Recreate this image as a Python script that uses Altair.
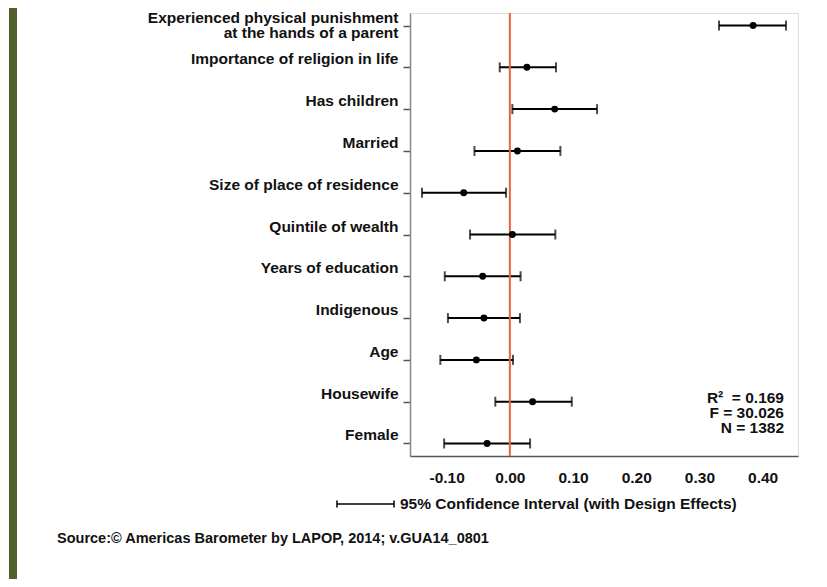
import altair as alt
import pandas as pd

# ---- data ----
categories = [
    "Experienced physical punishment|at the hands of a parent",
    "Importance of religion in life",
    "Has children",
    "Married",
    "Size of place of residence",
    "Quintile of wealth",
    "Years of education",
    "Indigenous",
    "Age",
    "Housewife",
    "Female",
]
coef = [0.385, 0.027, 0.071, 0.012, -0.073, 0.004, -0.043, -0.041, -0.053, 0.036, -0.036]
ci_low = [0.331, -0.016, 0.004, -0.056, -0.139, -0.063, -0.103, -0.098, -0.110, -0.023, -0.104]
ci_high = [0.437, 0.073, 0.138, 0.080, -0.006, 0.072, 0.017, 0.016, 0.005, 0.098, 0.032]
x_ticks = [-0.10, 0.0, 0.10, 0.20, 0.30, 0.40]
stats_lines = ["R\u00b2\u00a0 = 0.169", "F = 30.026", "N = 1382"]
legend_text = "95% Confidence Interval (with Design Effects)"
source_text = "Source:\u00a9 Americas Barometer by LAPOP, 2014; v.GUA14_0801"

df = pd.DataFrame({"var": categories, "coef": coef, "lo": ci_low, "hi": ci_high})

FONT = "Liberation Sans"
FS = 15.5
W, H = 388, 443

xscale = alt.Scale(domain=[-0.158, 0.456], nice=False, zero=False)
yscale = alt.Scale(type="point", padding=0.3)

x_axis = alt.Axis(
    values=x_ticks,
    labelExpr="replace(format(datum.value, '.2f'), '\u2212', '-')",
    ticks=False, tickSize=0, grid=False, title=None,
    labelFont=FONT, labelFontSize=FS, labelFontWeight="bold", labelColor="#111",
    labelPadding=14, domainColor="#555", domainWidth=1.5,
)
y_axis = alt.Axis(
    title=None, grid=False,
    labelExpr="split(datum.value, '|')",
    labelFont=FONT, labelFontSize=FS, labelFontWeight="bold", labelColor="#111",
    labelLimit=400, labelBaseline="alphabetic", labelOffset=-3.5, labelLineHeight=15,
    labelPadding=5, tickSize=7, tickColor="#555", tickWidth=1.5,
    domainColor="#888", domainWidth=1.5,
)

base = alt.Chart(df)
Y = alt.Y("var:N", sort=categories, scale=yscale, axis=y_axis)

ci = base.mark_rule(color="black", strokeWidth=2).encode(
    x=alt.X("lo:Q", scale=xscale, axis=x_axis),
    x2="hi:Q",
    y=Y,
)
cap_lo = base.mark_tick(color="black", size=10, thickness=2).encode(
    x=alt.X("lo:Q", scale=xscale), y=Y
)
cap_hi = base.mark_tick(color="black", size=10, thickness=2).encode(
    x=alt.X("hi:Q", scale=xscale), y=Y
)
zero = alt.Chart(pd.DataFrame({"z": [0.0]})).mark_rule(color="#E5643B", strokeWidth=2).encode(
    x=alt.X("z:Q", scale=xscale)
)
dots = base.mark_circle(color="black", size=48, opacity=1).encode(
    x=alt.X("coef:Q", scale=xscale), y=Y
)

one = pd.DataFrame({"k": [0]})
text_style = dict(font=FONT, fontWeight="bold", color="#111", baseline="middle")

stats = [
    alt.Chart(one).mark_text(align="right", fontSize=FS, **text_style).encode(
        x=alt.value(374), y=alt.value(yy), text=alt.value(t)
    )
    for t, yy in zip(stats_lines, [385, 400, 415])
]

green_bar = alt.Chart(one).mark_rect(color="#50622A").encode(
    x=alt.value(-401), x2=alt.value(-393), y=alt.value(-5), y2=alt.value(566)
)
leg_line = alt.Chart(one).mark_rule(color="black", strokeWidth=1.5).encode(
    x=alt.value(-73), x2=alt.value(-16), y=alt.value(491)
)
leg_cap1 = alt.Chart(one).mark_rule(color="black", strokeWidth=1.5).encode(
    x=alt.value(-73), y=alt.value(487.5), y2=alt.value(494.5)
)
leg_cap2 = alt.Chart(one).mark_rule(color="black", strokeWidth=1.5).encode(
    x=alt.value(-16), y=alt.value(487.5), y2=alt.value(494.5)
)
leg_text = alt.Chart(one).mark_text(align="left", fontSize=FS, **text_style).encode(
    x=alt.value(-10), y=alt.value(491), text=alt.value(legend_text)
)
src_text = alt.Chart(one).mark_text(align="left", fontSize=14.5, **text_style).encode(
    x=alt.value(-353), y=alt.value(526), text=alt.value(source_text)
)

chart = alt.layer(
    green_bar, ci, cap_lo, cap_hi, zero, dots, *stats, leg_line, leg_cap1, leg_cap2, leg_text, src_text
).properties(
    width=W, height=H, padding={"left": 1, "top": 0, "right": 5, "bottom": 0}
).configure_view(stroke=None).configure(background="white")

chart.save("out.html", embed_options={"renderer": "svg", "actions": False})
